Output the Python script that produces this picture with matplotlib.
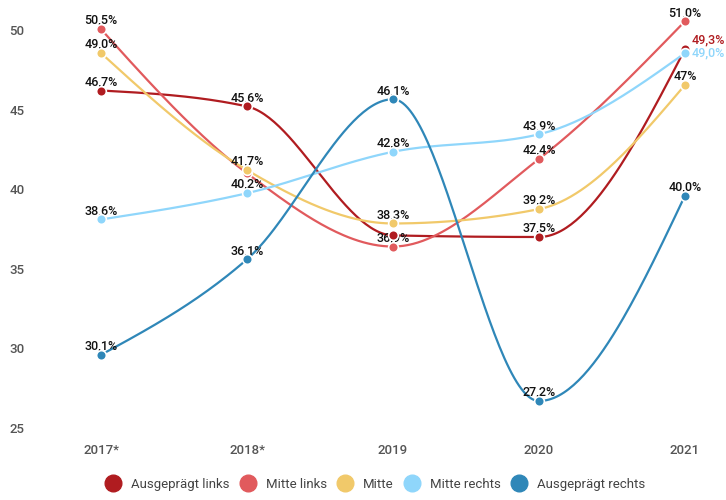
import matplotlib
matplotlib.use('Agg')
import matplotlib.pyplot as plt
from matplotlib.lines import Line2D
import numpy as np

plt.rcParams['font.family'] = ['Roboto', 'DejaVu Sans']

# Daten
years = ['2017*', '2018*', '2019', '2020', '2021']
series_names = ['Ausgeprägt links', 'Mitte links', 'Mitte', 'Mitte rechts', 'Ausgeprägt rechts']
colors = ['#b01c20', '#e15a5d', '#f1c96a', '#8fd6fb', '#2f87b8']

aus_links = [46.2, 45.2, 37.1, 37.0, 48.8]
mitte_links = [50.05, 41.0, 36.4, 41.9, 50.55]
mitte = [48.55, 41.2, 37.85, 38.75, 46.55]
mitte_rechts = [38.1, 39.75, 42.35, 43.45, 48.55]
aus_rechts = [29.6, 35.6, 45.65, 26.7, 39.6]

labels_aus_links = ['46,7%', '45,6%', None, '37,5%', '49,3%']
labels_mitte_links = ['50,5%', None, '36,9%', '42,4%', '51,0%']
labels_mitte = ['49,0%', '41,7%', '38,3%', '39,2%', '47%']
labels_mitte_rechts = ['38,6%', '40,2%', '42,8%', '43,9%', '49,0%']
labels_aus_rechts = ['30,1%', '36,1%', '46,1%', '27,2%', '40,0%']

all_values = [aus_links, mitte_links, mitte, mitte_rechts, aus_rechts]
all_labels = [labels_aus_links, labels_mitte_links, labels_mitte,
              labels_mitte_rechts, labels_aus_rechts]


def monotone_curve(x, y, n=60):
    # wie d3.curveMonotoneX (Steffen)
    x = np.asarray(x, float)
    y = np.asarray(y, float)
    k = len(x)
    t = np.zeros(k)
    for i in range(1, k - 1):
        h0 = x[i] - x[i - 1]
        h1 = x[i + 1] - x[i]
        s0 = (y[i] - y[i - 1]) / h0
        s1 = (y[i + 1] - y[i]) / h1
        p = (s0 * h1 + s1 * h0) / (h0 + h1)
        t[i] = (np.sign(s0) + np.sign(s1)) * min(abs(s0), abs(s1), 0.5 * abs(p))
    t[0] = (3 * (y[1] - y[0]) / (x[1] - x[0]) - t[1]) / 2
    t[-1] = (3 * (y[-1] - y[-2]) / (x[-1] - x[-2]) - t[-2]) / 2
    xs, ys = [], []
    for i in range(k - 1):
        h = x[i + 1] - x[i]
        s = np.linspace(0, 1, n)
        h00 = 2 * s**3 - 3 * s**2 + 1
        h10 = s**3 - 2 * s**2 + s
        h01 = -2 * s**3 + 3 * s**2
        h11 = s**3 - s**2
        xs.extend(x[i] + s * h)
        ys.extend(h00 * y[i] + h10 * h * t[i] + h01 * y[i + 1] + h11 * h * t[i + 1])
    return np.array(xs), np.array(ys)


fig = plt.figure(figsize=(7.26, 5), dpi=100)
ax = fig.add_axes([40 / 726, 60 / 500, 686 / 726, 435 / 500])

xpos = np.arange(len(years))
for vals, col in zip(all_values, colors):
    cx, cy = monotone_curve(xpos, vals)
    ax.plot(cx, cy, color=col, linewidth=1.6, zorder=2, solid_capstyle='round')

lab_font = dict(fontsize=9, fontweight='medium')
for vals, labs, col in zip(all_values, all_labels, colors):
    for i, (v, lab) in enumerate(zip(vals, labs)):
        if lab is None:
            continue
        if i == 4 and col == colors[0]:
            ax.annotate(lab, (i, v), xytext=(5, 4), textcoords='offset points',
                        ha='left', va='baseline', color=col, zorder=3, **lab_font)
        elif i == 4 and col == colors[3]:
            ax.annotate(lab, (i, v), xytext=(5, 0), textcoords='offset points',
                        ha='left', va='center', color=col, zorder=3, **lab_font)
        else:
            ax.annotate(lab, (i, v), xytext=(0, 3.8), textcoords='offset points',
                        ha='center', va='baseline', color='#111111', zorder=3,
                        **lab_font)

for vals, col in zip(all_values, colors):
    ax.plot(xpos, vals, 'o', color=col, markersize=7, markeredgecolor='white',
            markeredgewidth=1.2, zorder=4)

ax.set_xlim(-0.418, 4.281)
ax.set_ylim(24.25, 51.57)
ax.set_xticks(xpos)
ax.set_xticklabels(years)
ax.set_yticks([25, 30, 35, 40, 45, 50])
ax.tick_params(axis='both', length=0, labelsize=9.5, labelcolor='#555555')
for t in ax.get_xticklabels() + ax.get_yticklabels():
    t.set_fontweight('medium')
ax.tick_params(axis='y', pad=11)
ax.tick_params(axis='x', pad=3)
for sp in ax.spines.values():
    sp.set_visible(False)

handles = [Line2D([], [], marker='o', linestyle='none', markersize=12,
                  markerfacecolor=c, markeredgecolor=c) for c in colors]
leg = fig.legend(handles, series_names, loc='lower center', bbox_to_anchor=(0.517, -0.005),
                 ncol=5, frameon=False, fontsize=9.5, labelcolor='#444444',
                 handletextpad=0.75, columnspacing=0.8, handlelength=1.2)

fig.savefig('out.png', dpi=100)
